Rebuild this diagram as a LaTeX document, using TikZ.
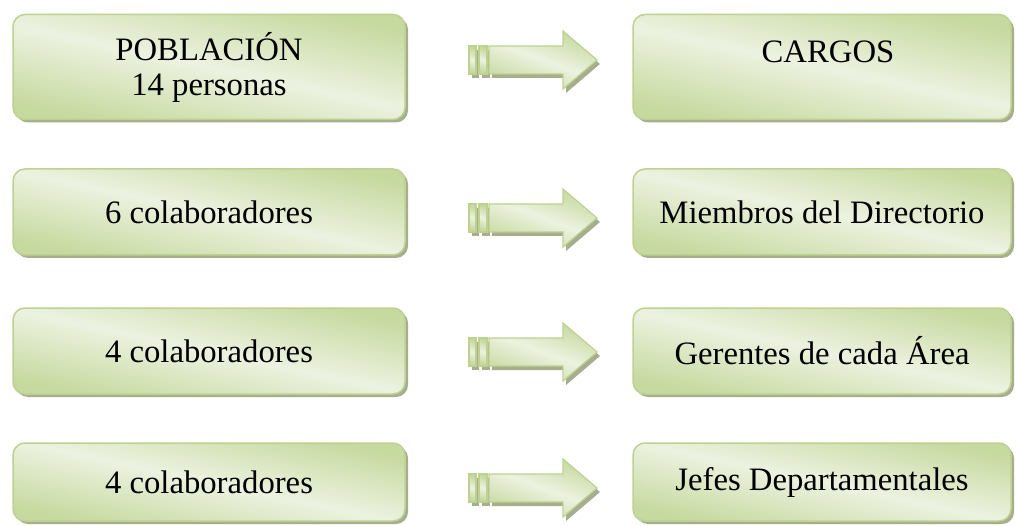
\documentclass[tikz,border=0pt]{standalone}
\usepackage{fontspec}
\setmainfont{Liberation Serif}
\usetikzlibrary{shadows}

\definecolor{verdeosc}{RGB}{198,217,158}
\definecolor{verdeclaro}{RGB}{236,242,224}
\definecolor{verdeborde}{RGB}{190,209,145}
\definecolor{sombra}{RGB}{166,174,142}

\def\anchoi{392}
\def\anchod{378}
\def\radio{12}

\tikzset{
  caja/.style={rectangle, rounded corners=\radio pt, draw=verdeborde, line width=1.5pt,
    top color=verdeosc, bottom color=verdeosc, middle color=verdeclaro, shading angle=-12,
    drop shadow={shadow xshift=3pt, shadow yshift=-3pt, fill=sombra, opacity=1},
    font=\fontsize{32.7}{35}\selectfont, align=center, inner sep=0pt},
  flechacuerpo/.style={draw=verdeborde, line width=1.2pt, top color=verdeosc, bottom color=verdeosc,
    middle color=verdeclaro, shading angle=-20},
}

\newcommand{\flecha}[2]{%
  \begin{scope}[shift={(#1,#2)}]
    \fill[sombra] (3,-10) rectangle ++(7,28);
    \fill[sombra] (13,-10) rectangle ++(8,28);
    \fill[sombra] (23,-10) -- ++(74,0) -- ++(0,-15) -- ++(34,29) -- ++(-34,29) -- ++(0,-15) -- ++(-74,0) -- cycle;
    \draw[flechacuerpo] (0,-14) rectangle ++(7,28);
    \draw[flechacuerpo] (10,-14) rectangle ++(8,28);
    \draw[flechacuerpo] (20,-14) -- ++(74,0) -- ++(0,-15) -- ++(34,29) -- ++(-34,29) -- ++(0,-15) -- ++(-74,0) -- cycle;
  \end{scope}}

\begin{document}
\begin{tikzpicture}[x=1pt,y=-1pt]
    \useasboundingbox (0,0) rectangle (1016,526);

    \node[caja, minimum width=\anchoi pt, minimum height=105pt] (pob) at (209,67) {POBLACIÓN\\14 personas};
    \node[caja, minimum width=\anchod pt, minimum height=105pt] (car) at (822,67) {};
    \node[font=\fontsize{32.7}{35}\selectfont] (cartxt) at (828,52) {CARGOS};

    \node[caja, minimum width=\anchoi pt, minimum height=86pt] (col1) at (209,212) {6 colaboradores};
    \node[caja, minimum width=\anchod pt, minimum height=86pt] (dir) at (822,212) {Miembros del Directorio};

    \node[caja, minimum width=\anchoi pt, minimum height=86pt] (col2) at (209,351) {4 colaboradores};
    \node[caja, minimum width=\anchod pt, minimum height=86pt] (ger) at (822,351) {Gerentes de cada Área};

    \node[caja, minimum width=\anchoi pt, minimum height=78pt] (col3) at (209,482) {4 colaboradores};
    \node[caja, minimum width=\anchod pt, minimum height=78pt] (jef) at (822,482) {Jefes Departamentales};

    \flecha{469}{60}
    \flecha{469}{218}
    \flecha{469}{352}
    \flecha{469}{488}
\end{tikzpicture}
\end{document}
